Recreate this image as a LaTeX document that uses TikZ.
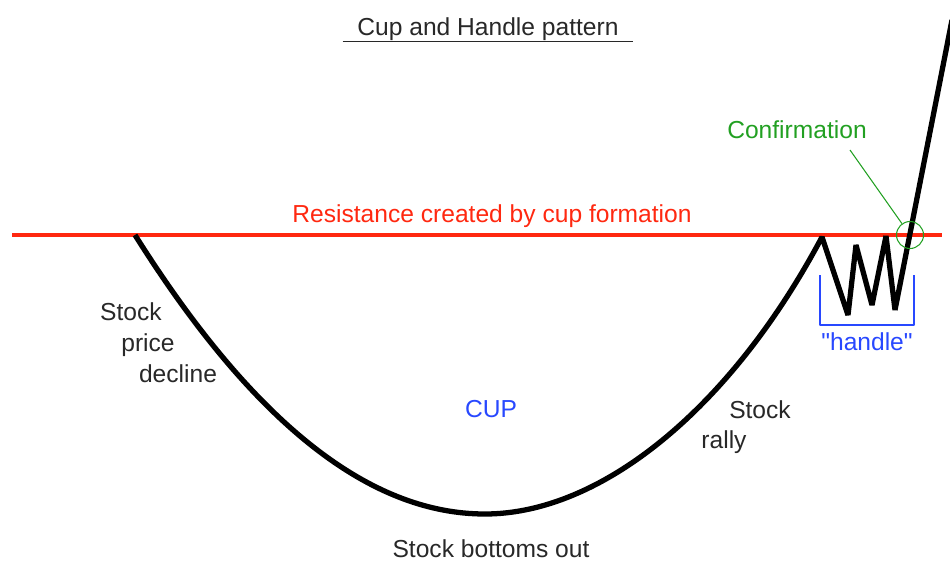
\documentclass[tikz,border=0pt]{standalone}
\usepackage{fontspec}
\setmainfont{Liberation Sans}[Ligatures=TeXOff]
\usetikzlibrary{positioning}
\definecolor{resred}{RGB}{255,40,16}
\definecolor{confgreen}{RGB}{34,160,34}
\definecolor{cupblue}{RGB}{40,72,255}
\definecolor{inkgray}{RGB}{40,40,40}

\begin{document}
\begin{tikzpicture}[x=0.02cm,y=-0.02cm,line join=bevel,
                    every node/.style={font=\fontsize{14}{16}\selectfont}]
  \tikzstyle{txt}=[anchor=base,inner sep=0pt,text=inkgray]
  \tikzstyle{price}=[line width=3pt,black]
  \tikzstyle{resist}=[line width=2pt,resred]
  \tikzstyle{ring}=[circle,draw=confgreen,line width=0.6pt,minimum size=0.54cm,inner sep=0pt]
  \tikzstyle{leader}=[confgreen,line width=0.6pt]
  \tikzstyle{bracket}=[cupblue,line width=0.9pt]

  \useasboundingbox (0,0) rectangle (950,565);

  % title
  \node[txt,minimum width=5.8cm,inner ysep=0.6pt] (title) at (488,35) {Cup and Handle pattern};
  \draw[inkgray,line width=1.1pt] (title.south west) -- (title.south east);

  % resistance line
  \coordinate (rl) at (12,235);
  \coordinate (rr) at (942,235);
  \draw[resist] (rl) -- (rr);
  \node[txt,text=resred] (res) at (492,222) {Resistance created by cup formation};

  % cup and handle
  \coordinate (cupL) at (135,235);
  \coordinate (cupB) at (485,514);
  \coordinate (cupR) at (822,237);
  \coordinate (h1) at (848,315);
  \coordinate (h2) at (856,245);
  \coordinate (h3) at (872,305);
  \coordinate (h4) at (886,236);
  \coordinate (h5) at (895,310);
  \coordinate (brk) at (952,20);
  \draw[price] (cupL) .. controls (252,421) and (368,514) .. (cupB)
               .. controls (600,514) and (730,410) .. (cupR)
               -- (h1) -- (h2) -- (h3) -- (h4) -- (h5) -- (brk);

  % confirmation
  \node[ring] (conf ring) at (910,235) {};
  \node[txt,text=confgreen] (conf) at (797,138) {Confirmation};
  \coordinate (cf) at (850,150);
  \draw[leader] (cf) -- (conf ring);

  % handle bracket
  \coordinate (b1) at (820,275);
  \coordinate (b3) at (914,325);
  \coordinate (b4) at (914,275);
  \draw[bracket] (b1) |- (b3) -- (b4);
  \node[txt,text=cupblue] (handle) at (867,350) {"handle"};

  % labels
  \node[txt] (dec1) at (131,320) {Stock};
  \node[txt] (dec2) at (148,351) {price};
  \node[txt] (dec3) at (178,382) {decline};
  \node[txt,text=cupblue] (cup) at (491,417) {CUP};
  \node[txt] (ral1) at (760,418) {Stock};
  \node[txt] (ral2) at (724,448) {rally};
  \node[txt] (bottom) at (491,557) {Stock bottoms out};
\end{tikzpicture}
\end{document}
